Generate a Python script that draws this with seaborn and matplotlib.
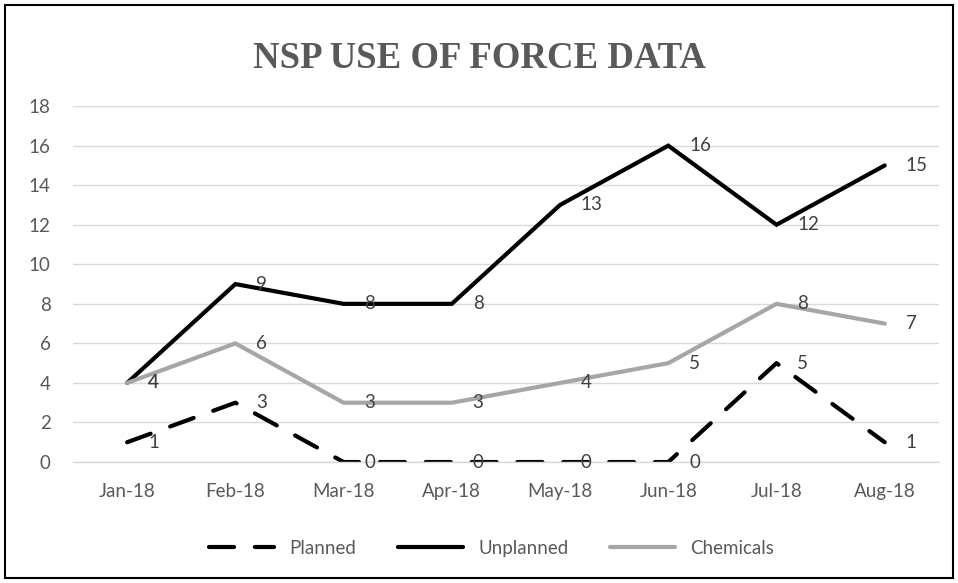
#!/usr/bin/env python3
"""NSP use of force data, Jan-Aug 2018."""

import matplotlib

matplotlib.use("Agg")
import matplotlib.pyplot as plt
import matplotlib.patches as patches
import matplotlib.ticker as ticker
import pandas as pd
import seaborn as sns

MONTHS = ["Jan-18", "Feb-18", "Mar-18", "Apr-18", "May-18", "Jun-18", "Jul-18", "Aug-18"]
PLANNED = [1, 3, 0, 0, 0, 0, 5, 1]
UNPLANNED = [4, 9, 8, 8, 13, 16, 12, 15]
CHEMICALS = [4, 6, 3, 3, 4, 5, 8, 7]
Y_TICKS = list(range(0, 20, 2))

SERIES = ["Planned", "Unplanned", "Chemicals"]
COLORS = {"Planned": "#000000", "Unplanned": "#000000", "Chemicals": "#A6A6A6"}
TEXT = "#595959"
GRID = "#D9D9D9"
FS = 13.5
DASH = (6.0, 5.0)


def main():
    sns.set_style("white")
    plt.rcParams["font.family"] = ["Lato", "DejaVu Sans"]

    df = pd.DataFrame(
        {
            "pos": list(range(len(MONTHS))) * 3,
            "value": PLANNED + UNPLANNED + CHEMICALS,
            "series": [s for s in SERIES for _ in MONTHS],
        }
    )

    fig = plt.figure(figsize=(9.58, 5.83), dpi=100)
    ax = fig.add_axes([0.0762, 0.2075, 0.9038, 0.6105])

    sns.lineplot(
        data=df,
        x="pos",
        y="value",
        hue="series",
        style="series",
        hue_order=SERIES,
        style_order=SERIES,
        palette=COLORS,
        dashes={"Planned": DASH, "Unplanned": "", "Chemicals": ""},
        linewidth=3.0,
        legend=False,
        ax=ax,
    )
    for line in ax.get_lines():
        line.set_dash_capstyle("round")
        line.set_solid_capstyle("round")
        line.set_solid_joinstyle("miter")

    # data labels to the right of each point
    for s in SERIES:
        sub = df[df["series"] == s]
        for x, y in zip(sub["pos"], sub["value"]):
            ax.annotate(
                str(y),
                xy=(x, y),
                xytext=(15, 0),
                textcoords="offset points",
                ha="left",
                va="center",
                fontsize=FS,
                color="#404040",
            )

    ax.set_xlim(-0.5, len(MONTHS) - 0.5)
    ax.set_ylim(0, 18)
    ax.set_xticks(range(len(MONTHS)))
    ax.set_xticklabels(MONTHS)
    ax.xaxis.set_minor_locator(ticker.FixedLocator([i - 0.5 for i in range(len(MONTHS) + 1)]))
    ax.set_yticks(Y_TICKS)
    ax.set_xlabel("")
    ax.set_ylabel("")

    ax.tick_params(axis="x", which="major", length=0, pad=15, labelsize=FS, labelcolor=TEXT)
    ax.tick_params(axis="x", which="minor", length=5, width=1, color=GRID, direction="out")
    ax.tick_params(axis="y", length=0, pad=16, labelsize=FS, labelcolor=TEXT)

    ax.grid(True, axis="y", color=GRID, linewidth=1)
    ax.set_axisbelow(True)
    for side in ["top", "right", "left"]:
        ax.spines[side].set_visible(False)
    ax.spines["bottom"].set_color(GRID)
    ax.spines["bottom"].set_linewidth(1)

    fig.text(
        0.5,
        0.9,
        "NSP USE OF FORCE DATA",
        ha="center",
        va="center",
        fontsize=26.5,
        fontweight="bold",
        family="Liberation Serif",
        color=TEXT,
    )

    # legend
    handles = [
        plt.Line2D([], [], color="#000000", lw=3.0, dashes=DASH, dash_capstyle="round"),
        plt.Line2D([], [], color="#000000", lw=3.0, solid_capstyle="round"),
        plt.Line2D([], [], color="#A6A6A6", lw=3.0, solid_capstyle="round"),
    ]
    fig.legend(
        handles,
        SERIES,
        loc="center",
        bbox_to_anchor=(0.513, 0.06),
        ncol=3,
        frameon=False,
        fontsize=FS,
        labelcolor=TEXT,
        handlelength=3.5,
        handletextpad=0.8,
        columnspacing=2.2,
    )

    # chart border
    fig.patches.append(
        patches.Rectangle(
            (0.005, 0.008),
            0.99,
            0.984,
            transform=fig.transFigure,
            fill=False,
            edgecolor="#000000",
            linewidth=1.5,
        )
    )

    fig.savefig("out.png", dpi=100)
    plt.close(fig)


if __name__ == "__main__":
    main()
